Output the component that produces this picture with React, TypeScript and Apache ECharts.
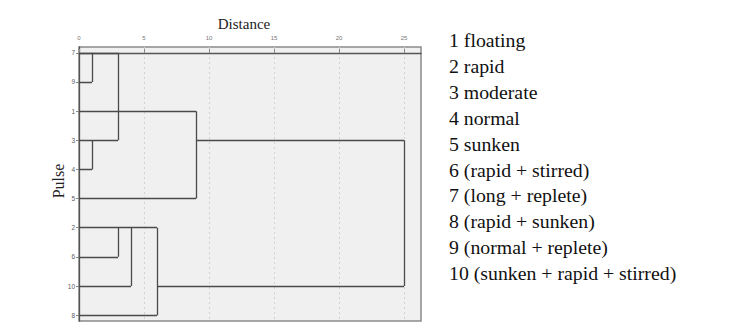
import React, { useEffect, useRef } from "react";
import * as echarts from "echarts";

// Leaves in dendrogram order (top to bottom)
const leafLabels = ["7", "9", "1", "3", "4", "5", "2", "6", "10", "8"];
// Legend of pulse types
const legendItems = [
  "1 floating",
  "2 rapid",
  "3 moderate",
  "4 normal",
  "5 sunken",
  "6 (rapid + stirred)",
  "7 (long + replete)",
  "8 (rapid + sunken)",
  "9 (normal + replete)",
  "10 (sunken + rapid + stirred)",
];
const xTickValues = [0, 5, 10, 15, 20, 25];
// Merges: children (L = leaf row, C = earlier merge), rescaled distance, row of the outgoing link
const mergeChildren = [
  ["L0", "L1"],
  ["L3", "L4"],
  ["C0", "L2", "C1"],
  ["C2", "L5"],
  ["L6", "L7"],
  ["C4", "L8"],
  ["C5", "L9"],
  ["C3", "C6"],
];
const mergeHeights = [1, 1, 3, 9, 3, 4, 6, 25];
const mergeRows = [0, 3, 2, 3, 6, 6, 8, 5.5];

const SERIF = "Liberation Serif";
const SANS = "Liberation Sans";

function buildSegments() {
  const nodes: Record<string, { row: number; h: number }> = {};
  leafLabels.forEach((_, i) => (nodes["L" + i] = { row: i, h: 0 }));
  const segs: number[][][] = [];
  mergeChildren.forEach((children, m) => {
    const h = mergeHeights[m];
    const rows = children.map((c) => nodes[c].row);
    segs.push([
      [h, Math.min(...rows)],
      [h, Math.max(...rows)],
    ]);
    children.forEach((c) => {
      const n = nodes[c];
      segs.push([
        [n.h, n.row],
        [h, n.row],
      ]);
    });
    nodes["C" + m] = { row: mergeRows[m], h };
  });
  return segs;
}

export default function App() {
  const ref = useRef<HTMLDivElement>(null);
  useEffect(() => {
    if (!ref.current) return;
    const chart = echarts.init(ref.current, null, { renderer: "svg" });
    const segs = buildSegments();
    const rowIdx = leafLabels.map((_, i) => i);
    chart.setOption({
      animation: false,
      backgroundColor: "#ffffff",
      grid: {
        left: 79,
        top: 47,
        right: 329,
        bottom: 15,
        show: true,
        backgroundColor: "#f0f0f0",
        borderColor: "#8a8a8a",
        borderWidth: 1.5,
      },
      xAxis: {
        type: "value",
        position: "top",
        min: 0,
        max: 26.3,
        interval: 5,
        axisLine: { show: true, lineStyle: { color: "#555", width: 1.3 } },
        axisTick: {
          show: true,
          length: 4,
          customValues: xTickValues,
          lineStyle: { color: "#888" },
        },
        axisLabel: {
          customValues: xTickValues,
          fontSize: 6,
          color: "#777",
          margin: 6,
          fontFamily: SANS,
        },
        splitLine: {
          show: true,
          lineStyle: { color: "#d2d2d2", type: [2, 3], width: 1 },
        },
      },
      yAxis: {
        type: "value",
        inverse: true,
        min: -0.2,
        max: 9.2,
        axisLine: { show: true, lineStyle: { color: "#555", width: 1.3 } },
        axisTick: {
          show: true,
          length: 3,
          customValues: rowIdx,
          lineStyle: { color: "#888" },
        },
        axisLabel: {
          customValues: rowIdx,
          formatter: (v: number) => leafLabels[Math.round(v)] ?? "",
          fontSize: 6.5,
          color: "#5a5a5a",
          margin: 4,
          fontFamily: SANS,
        },
        splitLine: { show: false },
      },
      series: [
        {
          type: "lines",
          coordinateSystem: "cartesian2d",
          polyline: false,
          silent: true,
          lineStyle: { color: "#4a4a4a", width: 1.3, opacity: 1 },
          data: segs.map((s) => ({ coords: s })),
        },
      ],
      graphic: [
        {
          type: "text",
          x: 244,
          y: 24,
          style: {
            text: "Distance",
            fontFamily: SERIF,
            fontSize: 15,
            fill: "#222",
            align: "center",
            verticalAlign: "middle",
          },
        },
        {
          type: "text",
          x: 58,
          y: 181,
          rotation: Math.PI / 2,
          style: {
            text: "Pulse",
            fontFamily: SERIF,
            fontSize: 16,
            fill: "#222",
            align: "center",
            verticalAlign: "middle",
          },
        },
        ...legendItems.map((t, i) => ({
          type: "text",
          x: 449,
          y: 40 + i * 25.9,
          style: {
            text: t,
            fontFamily: SERIF,
            fontSize: 19.8,
            fill: "#111",
            align: "left",
            verticalAlign: "middle",
          },
        })),
      ],
    });
    return () => chart.dispose();
  }, []);
  return (
    <div
      ref={ref}
      style={{ position: "fixed", left: 0, top: 0, width: 750, height: 336 }}
    />
  );
}
